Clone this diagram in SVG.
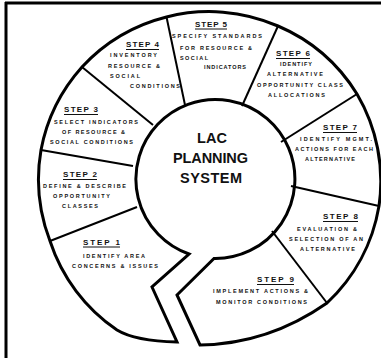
<svg xmlns="http://www.w3.org/2000/svg" width="381" height="358" viewBox="0 0 381 358">
<style>
.t{font-family:"Liberation Sans",Arial,sans-serif;font-weight:bold;fill:#111}
.s{font-size:5.5px}
.h{font-size:8px}
.c{font-size:14.5px}
.u{stroke:#111;stroke-width:1}
.o{fill:#fff;stroke:#000;stroke-width:3;stroke-linejoin:miter}
.d{stroke:#000;stroke-width:2;fill:none}
</style>
<rect x="0" y="0" width="381" height="358" fill="#fff"/>
<g id="frame" stroke="#000" stroke-width="3" fill="none">
<line x1="5" y1="3" x2="381" y2="3"/>
<line x1="6" y1="2" x2="6" y2="358"/>
</g>
<g id="wheel">
<path class="o" d="M189,254 A79.5,79.5 0 1 1 214,258.5 L177,295 L200,345 Q268.5,344 327,303 A172,172 0 0 0 379,206 A172,172 0 0 0 357,94 A172,172 0 0 0 278,26 A172,172 0 0 0 166.5,17 A172,172 0 0 0 82,67 A172,172 0 0 0 41,150 A172,172 0 0 0 50,241 A172,172 0 0 0 117,330 Q135,341 177,342 L152,287 Z"/>
</g>
<g id="dividers" class="d">
<line x1="166.5" y1="17" x2="185" y2="105"/>
<line x1="82" y1="67" x2="153" y2="125"/>
<line x1="41" y1="150" x2="133" y2="166"/>
<line x1="50" y1="241" x2="137" y2="207"/>
<line x1="278" y1="26" x2="242" y2="106"/>
<line x1="357" y1="94" x2="281" y2="142"/>
<line x1="379" y1="206" x2="291" y2="186"/>
<line x1="327" y1="303" x2="272" y2="231"/>
</g>
<g id="step1">
<text class="t h" x="83" y="244.5" textLength="37" lengthAdjust="spacing">STEP 1</text>
<line class="u" x1="83" y1="247" x2="120" y2="247"/>
<text class="t s" x="83" y="258" textLength="62" lengthAdjust="spacing">IDENTIFY AREA</text>
<text class="t s" x="72" y="268" textLength="86" lengthAdjust="spacing">CONCERNS &amp; ISSUES</text>
</g>
<g id="step2">
<text class="t h" x="63" y="177" textLength="34" lengthAdjust="spacing">STEP 2</text>
<line class="u" x1="63" y1="179.5" x2="97" y2="179.5"/>
<text class="t s" x="43" y="188" textLength="83" lengthAdjust="spacing">DEFINE &amp; DESCRIBE</text>
<text class="t s" x="53" y="198" textLength="57" lengthAdjust="spacing">OPPORTUNITY</text>
<text class="t s" x="62" y="208" textLength="36" lengthAdjust="spacing">CLASSES</text>
</g>
<g id="step3">
<text class="t h" x="64" y="112" textLength="34" lengthAdjust="spacing">STEP 3</text>
<line class="u" x1="64" y1="114.5" x2="98" y2="114.5"/>
<text class="t s" x="54" y="124" textLength="84" lengthAdjust="spacing">SELECT INDICATORS</text>
<text class="t s" x="62" y="134" textLength="63" lengthAdjust="spacing">OF RESOURCE &amp;</text>
<text class="t s" x="50" y="144" textLength="83" lengthAdjust="spacing">SOCIAL CONDITIONS</text>
</g>
<g id="step4">
<text class="t h" x="126" y="47" textLength="33" lengthAdjust="spacing">STEP 4</text>
<line class="u" x1="126" y1="49.5" x2="159" y2="49.5"/>
<text class="t s" x="110" y="57" textLength="47" lengthAdjust="spacing">INVENTORY</text>
<text class="t s" x="108" y="68" textLength="52" lengthAdjust="spacing">RESOURCE &amp;</text>
<text class="t s" x="110" y="78" textLength="30" lengthAdjust="spacing">SOCIAL</text>
<text class="t s" x="130" y="88" textLength="50" lengthAdjust="spacing">CONDITIONS</text>
</g>
<g id="step5">
<text class="t h" x="195" y="26.5" textLength="32" lengthAdjust="spacing">STEP 5</text>
<line class="u" x1="195" y1="29" x2="227" y2="29"/>
<text class="t s" x="172" y="38" textLength="90" lengthAdjust="spacing">SPECIFY STANDARDS</text>
<text class="t s" x="180" y="49.5" textLength="72" lengthAdjust="spacing">FOR RESOURCE &amp;</text>
<text class="t s" x="180" y="60" textLength="28" lengthAdjust="spacing">SOCIAL</text>
<text class="t s" x="204" y="69" textLength="42" lengthAdjust="spacing">INDICATORS</text>
</g>
<g id="step6">
<text class="t h" x="276" y="56" textLength="34" lengthAdjust="spacing">STEP 6</text>
<line class="u" x1="276" y1="58.5" x2="310" y2="58.5"/>
<text class="t s" x="280" y="65.5" textLength="32" lengthAdjust="spacing">IDENTIFY</text>
<text class="t s" x="267" y="76" textLength="56" lengthAdjust="spacing">ALTERNATIVE</text>
<text class="t s" x="257" y="87" textLength="86" lengthAdjust="spacing">OPPORTUNITY CLASS</text>
<text class="t s" x="268" y="97" textLength="57" lengthAdjust="spacing">ALLOCATIONS</text>
</g>
<g id="step7">
<text class="t h" x="323" y="130" textLength="34" lengthAdjust="spacing">STEP 7</text>
<line class="u" x1="323" y1="132.5" x2="357" y2="132.5"/>
<text class="t s" x="300" y="140.5" textLength="72" lengthAdjust="spacing">IDENTIFY MGMT.</text>
<text class="t s" x="295" y="151" textLength="78" lengthAdjust="spacing">ACTIONS FOR EACH</text>
<text class="t s" x="305" y="161" textLength="50" lengthAdjust="spacing">ALTERNATIVE</text>
</g>
<g id="step8">
<text class="t h" x="323" y="219" textLength="35" lengthAdjust="spacing">STEP 8</text>
<line class="u" x1="323" y1="221.5" x2="358" y2="221.5"/>
<text class="t s" x="297" y="231" textLength="60" lengthAdjust="spacing">EVALUATION &amp;</text>
<text class="t s" x="289" y="241" textLength="74" lengthAdjust="spacing">SELECTION OF AN</text>
<text class="t s" x="300" y="251" textLength="55" lengthAdjust="spacing">ALTERNATIVE</text>
</g>
<g id="step9">
<text class="t h" x="257" y="282" textLength="37" lengthAdjust="spacing">STEP 9</text>
<line class="u" x1="257" y1="284.5" x2="294" y2="284.5"/>
<text class="t s" x="213" y="293" textLength="95" lengthAdjust="spacing">IMPLEMENT ACTIONS &amp;</text>
<text class="t s" x="216" y="303.5" textLength="91" lengthAdjust="spacing">MONITOR CONDITIONS</text>
</g>
<g id="center">
<text class="t c" x="197" y="143" textLength="30" lengthAdjust="spacing">LAC</text>
<text class="t c" x="173" y="163" textLength="75" lengthAdjust="spacing">PLANNING</text>
<text class="t c" x="180" y="183" textLength="62" lengthAdjust="spacing">SYSTEM</text>
</g>
</svg>
